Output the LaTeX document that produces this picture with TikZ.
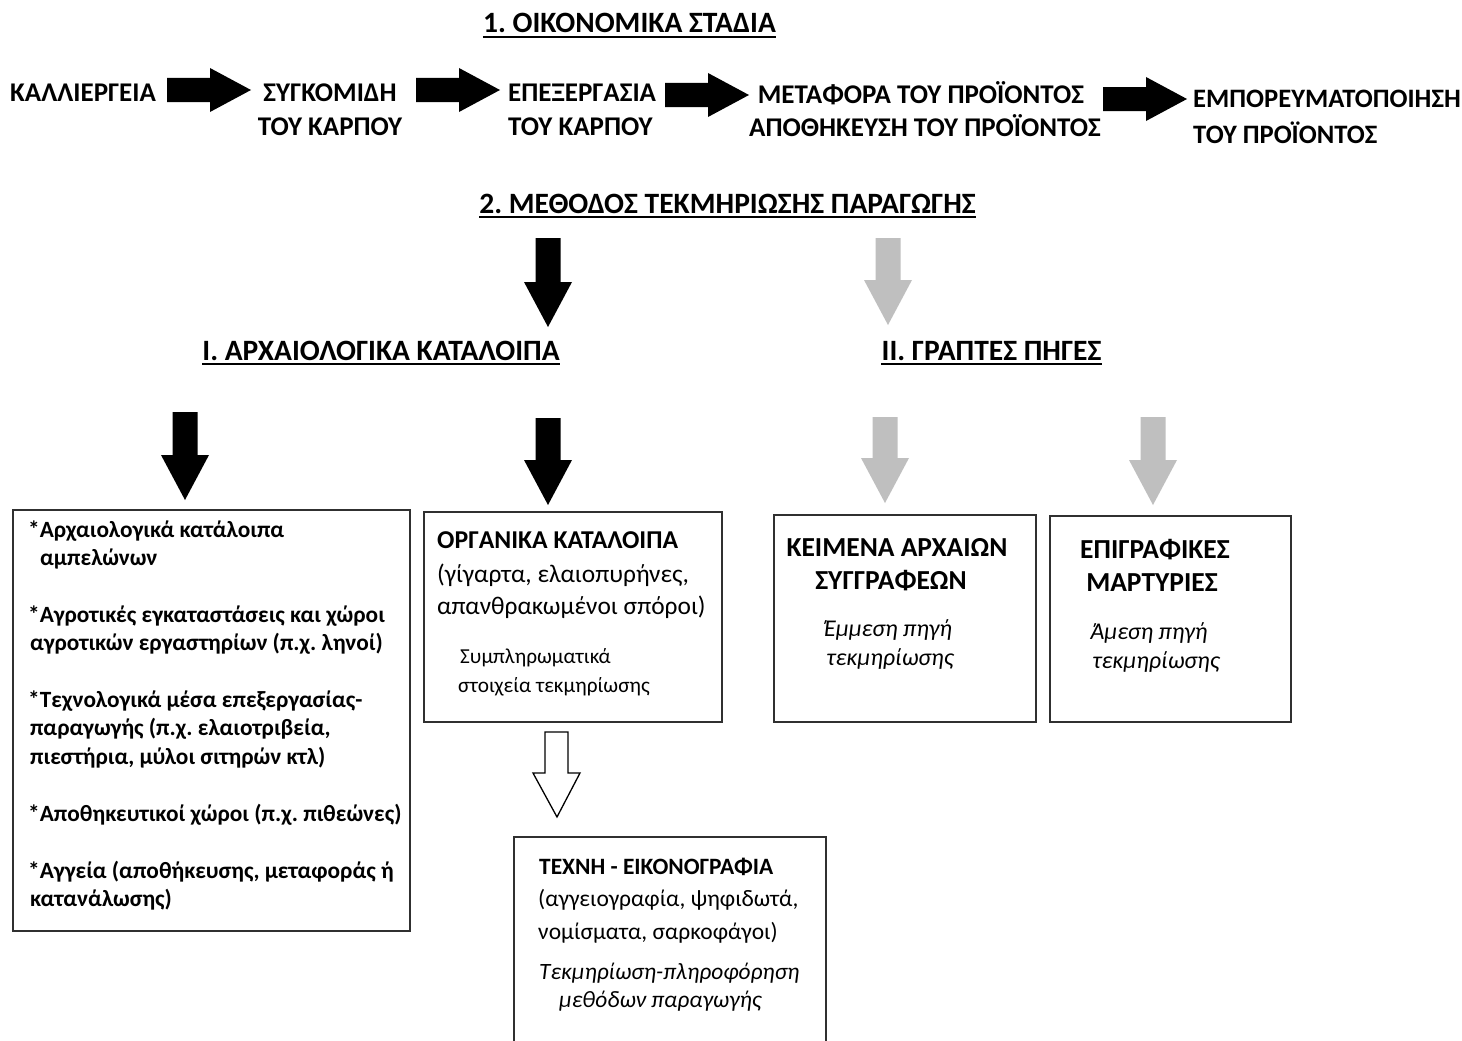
\documentclass[tikz,border=0pt]{standalone}
\usepackage{fontspec}
\setmainfont{Carlito}
\frenchspacing
\definecolor{lgray}{HTML}{BFBFBF}
\definecolor{bord}{HTML}{303030}
\newcommand\myrarrow[2]{\fill[black] (#1,#2-12) -- (#1+43,#2-12) -- (#1+43,#2-22) -- (#1+84,#2) -- (#1+43,#2+22) -- (#1+43,#2+12) -- (#1,#2+12) -- cycle;}
\newcommand\mydarrow[4]{\fill[#4] (#1-12.5,#2) -- (#1+12.5,#2) -- (#1+12.5,#3-45) -- (#1+24,#3-45) -- (#1,#3) -- (#1-24,#3-45) -- (#1-12.5,#3-45) -- cycle;}
\begin{document}
\begin{tikzpicture}[x=1pt,y=-1pt,
  toptxt/.style={font=\fontsize{27}{30}\selectfont\bfseries, inner sep=0},
  ttl/.style={font=\fontsize{29.5}{32}\selectfont\bfseries, inner sep=0},
  uline/.style={line width=2pt},
  boxA/.style={font=\fontsize{23.3}{26}\selectfont\bfseries, inner sep=0, anchor=base west},
  bhead/.style={font=\fontsize{25.7}{28}\selectfont\bfseries, inner sep=0},
  breg/.style={font=\fontsize{25.4}{28}\selectfont, inner sep=0},
  bsmall/.style={font=\fontsize{21.3}{24}\selectfont, inner sep=0},
  chead/.style={font=\fontsize{27.5}{30}\selectfont\bfseries, inner sep=0},
  cital/.style={font=\fontsize{24}{27}\selectfont\itshape, inner sep=0},
  ehead/.style={font=\fontsize{23.4}{26}\selectfont\bfseries, inner sep=0},
  ereg/.style={font=\fontsize{23.5}{26}\selectfont, inner sep=0},
  eital/.style={font=\fontsize{23.4}{26}\selectfont\itshape, inner sep=0},
  box/.style={draw=bord, line width=1.5pt, inner sep=0, anchor=north west}]
\useasboundingbox (0,0) rectangle (1462,1041);
\fill[white] (0,0) rectangle (1462,1041);

% ---- 1. stages
\node[ttl, anchor=base] (t1) at (629.5,33) {1. ΟΙΚΟΝΟΜΙΚΑ ΣΤΑΔΙΑ};
\draw[uline] ([yshift=-4pt]t1.base west) -- ([yshift=-4pt]t1.base east);

\node[toptxt, anchor=base west] (k1) at (10,101) {ΚΑΛΛΙΕΡΓΕΙΑ};
\node[toptxt, anchor=base] (k2a) at (330,101) {ΣΥΓΚΟΜΙΔΗ};
\node[toptxt, anchor=base] (k2b) at (330,135) {ΤΟΥ ΚΑΡΠΟΥ};
\node[toptxt, anchor=base west] (k3a) at (508,101) {ΕΠΕΞΕΡΓΑΣΙΑ};
\node[toptxt, anchor=base west] (k3b) at (508,135) {ΤΟΥ ΚΑΡΠΟΥ};
\node[toptxt, anchor=base] (k4a) at (921,103) {ΜΕΤΑΦΟΡΑ ΤΟΥ ΠΡΟΪΟΝΤΟΣ};
\node[toptxt, anchor=base] (k4b) at (925,136) {ΑΠΟΘΗΚΕΥΣΗ ΤΟΥ ΠΡΟΪΟΝΤΟΣ};
\node[toptxt, font=\fontsize{26.6}{30}\selectfont\bfseries, anchor=base west] (k5a) at (1193,107) {ΕΜΠΟΡΕΥΜΑΤΟΠΟΙΗΣΗ};
\node[toptxt, font=\fontsize{26.6}{30}\selectfont\bfseries, anchor=base west] (k5b) at (1193,143) {ΤΟΥ ΠΡΟΪΟΝΤΟΣ};

\myrarrow{167}{90}
\myrarrow{416}{90}
\myrarrow{665}{95}
\myrarrow{1103}{99}

% ---- 2. method
\node[ttl, anchor=base] (t2) at (727.5,213) {2. ΜΕΘΟΔΟΣ ΤΕΚΜΗΡΙΩΣΗΣ ΠΑΡΑΓΩΓΗΣ};
\draw[uline] ([yshift=-4pt]t2.base west) -- ([yshift=-4pt]t2.base east);

\mydarrow{548}{238}{327}{black}
\mydarrow{888}{238}{325}{lgray}

\node[ttl, anchor=base] (t3) at (381,360) {Ι. ΑΡΧΑΙΟΛΟΓΙΚΑ ΚΑΤΑΛΟΙΠΑ};
\draw[uline] ([yshift=-4pt]t3.base west) -- ([yshift=-4pt]t3.base east);
\node[ttl, anchor=base] (t4) at (991.5,360) {ΙΙ. ΓΡΑΠΤΕΣ ΠΗΓΕΣ};
\draw[uline] ([yshift=-4pt]t4.base west) -- ([yshift=-4pt]t4.base east);

\mydarrow{185}{412}{500}{black}
\mydarrow{548}{418}{505}{black}
\mydarrow{885}{417}{503}{lgray}
\mydarrow{1153}{417}{505}{lgray}

% ---- boxes
\node[box, minimum width=397pt, minimum height=421pt] (bA) at (12,509) {};
\node[box, minimum width=298pt, minimum height=210pt] (bB) at (423,511) {};
\node[box, minimum width=262pt, minimum height=207pt] (bC) at (773,514) {};
\node[box, minimum width=241pt, minimum height=206pt] (bD) at (1049,515) {};
\node[box, minimum width=312pt, minimum height=240pt] (bE) at (513,836) {};

% box A
\node[boxA] (a1) at (28,537) {*Αρχαιολογικά κατάλοιπα};
\node[boxA] (a2) at (40,565) {αμπελώνων};
\node[boxA] (a3) at (28,622) {*Αγροτικές εγκαταστάσεις και χώροι};
\node[boxA] (a4) at (30,650) {αγροτικών εργαστηρίων (π.χ. ληνοί)};
\node[boxA] (a5) at (28,707) {*Τεχνολογικά μέσα επεξεργασίας-};
\node[boxA] (a6) at (30,735) {παραγωγής (π.χ. ελαιοτριβεία,};
\node[boxA] (a7) at (30,764) {πιεστήρια, μύλοι σιτηρών κτλ)};
\node[boxA] (a8) at (28,821) {*Αποθηκευτικοί χώροι (π.χ. πιθεώνες)};
\node[boxA] (a9) at (28,878) {*Αγγεία (αποθήκευσης, μεταφοράς ή};
\node[boxA] (a10) at (30,906) {κατανάλωσης)};

% box B
\node[bhead, anchor=base west] (b1) at (437,548) {ΟΡΓΑΝΙΚΑ ΚΑΤΑΛΟΙΠΑ};
\node[breg, anchor=base west] (b2) at (437,582) {(γίγαρτα, ελαιοπυρήνες,};
\node[breg, anchor=base west] (b3) at (437,614) {απανθρακωμένοι σπόροι)};
\node[bsmall, anchor=base west] (b4) at (460,663) {Συμπληρωματικά};
\node[bsmall, anchor=base west] (b5) at (458,692) {στοιχεία τεκμηρίωσης};

% box C
\node[chead, anchor=base] (c1) at (897,556) {ΚΕΙΜΕΝΑ ΑΡΧΑΙΩΝ};
\node[chead, anchor=base] (c2) at (891,589) {ΣΥΓΓΡΑΦΕΩΝ};
\node[cital, anchor=base] (c3) at (888,636) {Έμμεση πηγή};
\node[cital, anchor=base] (c4) at (890,665) {τεκμηρίωσης};

% box D
\node[chead, anchor=base] (d1) at (1155,558) {ΕΠΙΓΡΑΦΙΚΕΣ};
\node[chead, anchor=base] (d2) at (1152,591) {ΜΑΡΤΥΡΙΕΣ};
\node[cital, anchor=base] (d3) at (1149,639) {Άμεση πηγή};
\node[cital, anchor=base] (d4) at (1156,668) {τεκμηρίωσης};

% white arrow
\draw[black, line width=1.3pt, fill=white, line join=miter]
  (545,732) -- (568,732) -- (568,773) -- (580,773) -- (557,817) -- (533,773) -- (545,773) -- cycle;

% box E
\node[ehead, anchor=base west] (e1) at (539,874) {ΤΕΧΝΗ - ΕΙΚΟΝΟΓΡΑΦΙΑ};
\node[ereg, anchor=base west] (e2) at (538,906) {(αγγειογραφία, ψηφιδωτά,};
\node[ereg, anchor=base west] (e3) at (538,939) {νομίσματα, σαρκοφάγοι)};
\node[eital, anchor=base west] (e4) at (539,979) {Τεκμηρίωση-πληροφόρηση};
\node[eital, anchor=base west] (e5) at (559,1007) {μεθόδων παραγωγής};
\end{tikzpicture}
\end{document}
